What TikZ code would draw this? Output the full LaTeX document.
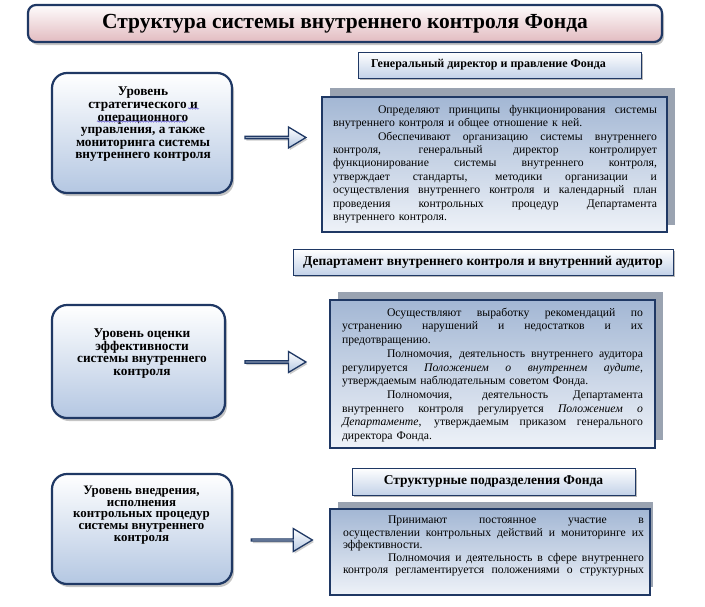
\documentclass[tikz,border=0pt]{standalone}
\usepackage{fontspec}
\usepackage{graphicx}
\setmainfont{Liberation Serif}
\usetikzlibrary{shapes.arrows,shadows,decorations.pathmorphing}
\definecolor{navy}{HTML}{1F3864}
\definecolor{lbl}{HTML}{B4C7E2}
\definecolor{cbt}{HTML}{A3B7D4}
\definecolor{cbb}{HTML}{EEF2F8}
\definecolor{hdb}{HTML}{C3D2E8}
\definecolor{pinkb}{HTML}{E2BBC0}
\definecolor{shgray}{HTML}{9AA3B1}
\definecolor{wavy}{HTML}{5A4FC8}
\newlength\cw
\newsavebox\jbox
\newcommand\JS[1]{\leavevmode\sbox\jbox{#1}\ifdim\wd\jbox>\cw\resizebox{\cw}{\ht\jbox}{\usebox\jbox}\else\hbox to\cw{\spaceskip=\fontdimen2\font plus 1fil\relax #1}\fi}
\newcommand\JE[1]{\leavevmode\sbox\jbox{#1}\ifdim\wd\jbox>\cw\resizebox{\cw}{\ht\jbox}{\usebox\jbox}\else\hbox to\cw{#1\hfil}\fi}
\newcommand\IND{\hspace*{45pt}}
\tikzset{
  titlebox/.style={draw=navy, line width=2.2pt, rounded corners=8pt, top color=white!96!pinkb, bottom color=pinkb,
    drop shadow={shadow xshift=2pt, shadow yshift=-3pt, opacity=0.45}},
  levelbox/.style={draw=navy, line width=2.2pt, rounded corners=15pt, top color=white, bottom color=lbl,
    drop shadow={shadow xshift=2pt, shadow yshift=-3pt, opacity=0.45}},
  leveltext/.style={font=\bfseries\fontsize{13.3}{12.6}\selectfont, align=center, inner sep=0pt},
  hdrbox/.style={draw=navy, line width=1pt, top color=white, bottom color=hdb,
    drop shadow={shadow xshift=2pt, shadow yshift=-2pt, opacity=0.55},
    font=\bfseries\fontsize{13.5}{15}\selectfont, inner sep=0pt},
  backrect/.style={fill=shgray, draw=none},
  contbox/.style={draw=navy, line width=2pt, top color=cbt, bottom color=cbb},
  conttext/.style={font=\fontsize{11.7}{13.4}\selectfont, align=left, inner sep=0pt},
  blockarrow/.style={single arrow, draw=navy, line width=1.3pt, top color=white, bottom color=lbl,
    minimum height=61pt, minimum width=21pt, single arrow head extend=5.5pt,
    single arrow tip angle=62, single arrow head indent=0pt, inner sep=0pt,
    drop shadow={shadow xshift=1.5pt, shadow yshift=-2pt, opacity=0.4}},
  wavyline/.style={draw=wavy, line width=0.5pt, decorate, decoration={snake, amplitude=0.7pt, segment length=2.6pt}}
}
\begin{document}
\begin{tikzpicture}[x=1pt, y=-1pt]
\useasboundingbox (0,0) rectangle (705,606);
\fill[white] (0,0) rectangle (705,606);

% title
\node[titlebox, minimum width=634pt, minimum height=37pt, inner sep=0pt] (title) at (345,23.5) {};
\node[font=\bfseries\fontsize{21.5}{24}\selectfont, inner sep=0pt] (titletext) at (345,23.5) {Структура системы внутреннего контроля Фонда};

% level boxes
\node[levelbox, minimum width=180pt, minimum height=120pt] (l1) at (142,133) {};
\node[leveltext] (l1t) at (143,124.5) {Уровень\\ стратегического и\\ операционного\\ управления, а также\\ мониторинга системы\\ внутреннего контроля};
\node[levelbox, minimum width=173pt, minimum height=113pt] (l2) at (138.5,361.5) {};
\node[leveltext] (l2t) at (142,353.5) {Уровень оценки\\ эффективности\\ системы внутреннего\\ контроля};
\node[levelbox, minimum width=180pt, minimum height=110pt] (l3) at (142,529) {};
\node[leveltext, font=\bfseries\fontsize{12.9}{11.6}\selectfont] (l3t) at (141.5,515) {Уровень внедрения,\\ исполнения\\ контрольных процедур\\ системы внутреннего\\ контроля};

% wavy underlines
\coordinate (w1a) at (188,108.5); \coordinate (w1b) at (199,108.5);
\coordinate (w2a) at (97,121.5); \coordinate (w2b) at (186,121.5);
\draw[wavyline] (w1a) -- (w1b);
\draw[wavyline] (w2a) -- (w2b);

% arrows
\node[blockarrow] (a1) at (274.5,137.5) {};
\node[blockarrow] (a2) at (274.5,362) {};
\node[blockarrow, minimum width=23pt, single arrow head extend=6.5pt] (a3) at (281,540) {};

% headers
\node[hdrbox, font=\bfseries\fontsize{12}{14}\selectfont, minimum width=283pt, minimum height=26pt] (h1) at (499.5,65) {\hspace*{-22pt}Генеральный директор и правление Фонда};
\node[hdrbox, minimum width=380pt, minimum height=26pt] (h2) at (483,262) {Департамент внутреннего контроля и внутренний аудитор};
\node[hdrbox, minimum width=283pt, minimum height=27pt] (h3) at (493.5,481.5) {Структурные подразделения Фонда};

% back rectangles
\fill[backrect] (330,88) rectangle (675,225);
\fill[backrect] (338,292) rectangle (663,440);
\fill[backrect] (338,502) rectangle (653,587);

% content boxes
\node[contbox, minimum width=345pt, minimum height=135pt] (c1) at (494.5,164.5) {};
\setlength\cw{324pt}
\node[conttext, text width=324pt] (c1t) at (495,164) {%
\JS{\IND Определяют принципы функционирования системы}\\
\JE{внутреннего контроля и общее отношение к ней.}\\
\JS{\IND Обеспечивают организацию системы внутреннего}\\
\JS{контроля, генеральный директор контролирует}\\
\JS{функционирование системы внутреннего контроля,}\\
\JS{утверждает стандарты, методики организации и}\\
\JS{осуществления внутреннего контроля и календарный план}\\
\JS{проведения контрольных процедур Департамента}\\
\JE{внутреннего контроля.}};

\node[contbox, minimum width=325pt, minimum height=148pt] (c2) at (492.5,374) {};
\setlength\cw{301pt}
\node[conttext, font=\fontsize{11.7}{13.7}\selectfont, text width=301pt] (c2t) at (492.5,375) {%
\JS{\IND Осуществляют выработку рекомендаций по}\\
\JS{устранению нарушений и недостатков и их}\\
\JE{предотвращению.}\\
\JS{\IND Полномочия, деятельность внутреннего аудитора}\\
\JS{регулируется \textit{Положением о внутреннем аудите},}\\
\JE{утверждаемым наблюдательным советом Фонда.}\\
\JS{\IND Полномочия, деятельность Департамента}\\
\JS{внутреннего контроля регулируется \textit{Положением о}}\\
\JS{\textit{Департаменте}, утверждаемым приказом генерального}\\
\JE{директора Фонда.}};

\node[contbox, minimum width=320pt, minimum height=86pt] (c3) at (490,552) {};
\setlength\cw{301pt}
\node[conttext, font=\fontsize{11.7}{12.5}\selectfont, text width=301pt] (c3t) at (493.5,546) {%
\JS{\IND Принимают постоянное участие в}\\
\JS{осуществлении контрольных действий и мониторинге их}\\
\JE{эффективности.}\\
\JS{\IND Полномочия и деятельность в сфере внутреннего}\\
\JS{контроля регламентируется положениями о структурных}};
\end{tikzpicture}
\end{document}
